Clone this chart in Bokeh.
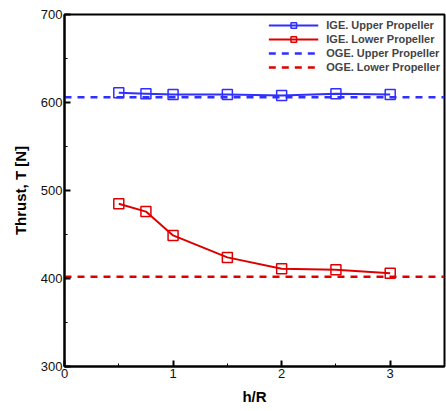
from bokeh.plotting import figure
from bokeh.models import Range1d, FixedTicker, Legend, LegendItem
from bokeh.embed import file_html
from bokeh.resources import INLINE

h_R = [0.5, 0.75, 1.0, 1.5, 2.0, 2.5, 3.0]
ige_upper = [611, 610, 609, 609, 608, 610, 609]
ige_lower = [485, 476, 449, 424, 411, 410, 406]
oge_upper = 606
oge_lower = 402
x_span = [0, 3.5]

BLUE = "#2f2fff"
RED = "#dd0000"

p = figure(width=446, height=411, output_backend="svg", toolbar_location=None,
           x_range=Range1d(0, 3.5), y_range=Range1d(300, 700))
p.min_border_left = 64
p.min_border_right = 2
p.min_border_top = 14
p.min_border_bottom = 45
p.xgrid.visible = False
p.ygrid.visible = False
p.outline_line_color = "black"
p.outline_line_width = 2
p.background_fill_color = "white"
p.border_fill_color = "white"

p.xaxis.ticker = FixedTicker(ticks=[0, 1, 2, 3], minor_ticks=[0.5, 1.5, 2.5])
p.yaxis.ticker = FixedTicker(ticks=[300, 400, 500, 600, 700], minor_ticks=[350, 450, 550, 650])
for ax in (p.xaxis, p.yaxis):
    ax.major_tick_in = 6
    ax.major_tick_out = 0
    ax.minor_tick_in = 3
    ax.minor_tick_out = 0
    ax.major_tick_line_width = 2
    ax.axis_line_width = 2
    ax.major_label_text_font = "Liberation Sans"
    ax.major_label_text_font_size = "13px"
    ax.major_label_text_color = "#111111"
    ax.axis_label_text_font = "Liberation Sans"
    ax.axis_label_text_font_style = "bold"
    ax.axis_label_text_font_size = "15px"
    ax.axis_label_text_color = "black"
p.xaxis.axis_label = "h/R"
p.yaxis.axis_label = "Thrust, T [N]"
p.xaxis.major_label_standoff = 2
p.yaxis.major_label_standoff = 2
p.xaxis.axis_label_standoff = 7
p.yaxis.axis_label_standoff = 9

l1 = p.line(h_R, ige_upper, line_color=BLUE, line_width=2)
m1 = p.scatter(h_R, ige_upper, marker="square", size=10, fill_color=None,
               line_color=BLUE, line_width=1.5)
l2 = p.line(h_R, ige_lower, line_color=RED, line_width=2)
m2 = p.scatter(h_R, ige_lower, marker="square", size=10, fill_color=None,
               line_color=RED, line_width=1.5)
l3 = p.line(x_span, [oge_upper, oge_upper], line_color=BLUE, line_width=2.5, line_dash="7 6")
l4 = p.line(x_span, [oge_lower, oge_lower], line_color=RED, line_width=2.5, line_dash="7 6")

legend = Legend(items=[
    LegendItem(label="IGE. Upper Propeller", renderers=[l1, m1]),
    LegendItem(label="IGE. Lower Propeller", renderers=[l2, m2]),
    LegendItem(label="OGE. Upper Propeller", renderers=[l3]),
    LegendItem(label="OGE. Lower Propeller", renderers=[l4]),
], location="top_right")
legend.border_line_color = None
legend.background_fill_alpha = 0
legend.label_text_font = "Liberation Sans"
legend.label_text_font_style = "bold"
legend.label_text_font_size = "11px"
legend.glyph_width = 50
legend.glyph_height = 14
legend.label_height = 14
legend.spacing = 0
legend.padding = 2
legend.margin = 4
legend.label_standoff = 8
p.add_layout(legend)

open("out.html", "w").write(file_html(p, INLINE))
